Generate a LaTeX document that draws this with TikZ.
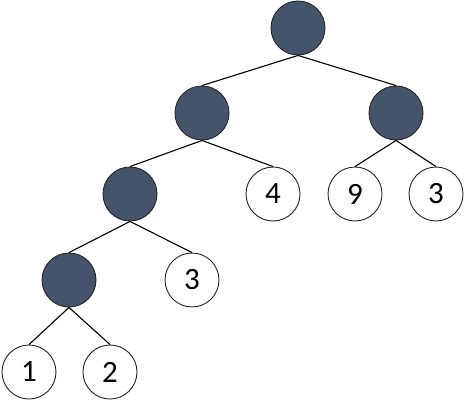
\documentclass[tikz,border=0pt]{standalone}
\usepackage{fontspec}
\setmainfont{Carlito}
\definecolor{darkfill}{HTML}{44546A}
\begin{document}
\begin{tikzpicture}[x=1pt,y=1pt,
  inner/.style={circle,draw=black!85,line width=0.9pt,fill=darkfill,minimum size=54pt,inner sep=0pt},
  leaf/.style={circle,draw=black!85,line width=0.9pt,fill=white,minimum size=54pt,inner sep=0pt,font=\fontsize{31}{31}\selectfont},
  edge/.style={line width=1.1pt,black}]
\useasboundingbox (0,0) rectangle (465,413);
\node[inner] (r) at (298,385) {};
\node[inner] (a) at (202,300) {};
\node[inner] (b) at (396,300) {};
\node[inner] (c) at (130,219) {};
\node[leaf] (l4) at (273,219) {4};
\node[leaf] (l9) at (355,219) {9};
\node[leaf] (l3a) at (436,219) {3};
\node[inner] (d) at (69,133) {};
\node[leaf] (l3b) at (192,133) {3};
\node[leaf] (l1) at (29,41) {1};
\node[leaf] (l2) at (110,41) {2};
\foreach \p/\c in {r/a,r/b,a/c,a/l4,b/l9,b/l3a,c/d,c/l3b,d/l1,d/l2}
  \draw[edge] (\p.south) -- (\c.north);
\end{tikzpicture}
\end{document}
